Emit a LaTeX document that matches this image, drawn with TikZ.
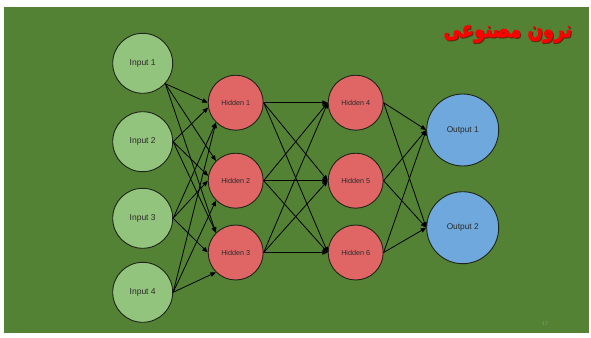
\documentclass[tikz,border=0pt]{standalone}
\usepackage{fontspec}
\setmainfont{Liberation Sans}
\newfontfamily\arabicfont[Script=Arabic,FakeBold=2.5]{DejaVu Sans}
\TeXXeTstate=1
\usetikzlibrary{arrows.meta}

\definecolor{slidegreen}{HTML}{548235}
\definecolor{inputfill}{HTML}{93C47D}
\definecolor{hiddenfill}{HTML}{E06666}
\definecolor{outputfill}{HTML}{6FA8DC}
\definecolor{rimcol}{HTML}{1E2418}
\definecolor{labelcol}{HTML}{2A2A2A}
\definecolor{titleshadow}{HTML}{5A2A10}
\definecolor{pagenum}{HTML}{8C9C80}

\begin{document}
\begin{tikzpicture}[x=1pt,y=-1pt,
  neuron/.style={circle,draw=rimcol,line width=0.9pt,inner sep=0pt,text=labelcol},
  innode/.style={neuron,fill=inputfill,minimum size=60pt,font=\fontsize{8.5}{10}\selectfont},
  hidnode/.style={neuron,fill=hiddenfill,minimum size=55pt,font=\fontsize{7.2}{9}\selectfont},
  outnode/.style={neuron,fill=outputfill,minimum size=72pt,font=\fontsize{8.3}{10}\selectfont},
  link/.style={draw=black,line width=0.8pt,-{Triangle[length=5.5pt,width=4.5pt]}},
  titletext/.style={anchor=east,xscale=0.78,transform shape,inner sep=0pt,font=\arabicfont\bfseries\fontsize{23}{26}\selectfont}
]
% page and slide background
\fill[white] (0,0) rectangle (591,337);
\fill[slidegreen] (4,7) rectangle (589,333);

% input layer
\node[innode] (i1) at (142.7,63.3)  {Input 1};
\node[innode] (i2) at (142.7,141.7) {Input 2};
\node[innode] (i3) at (142.7,218.3) {Input 3};
\node[innode] (i4) at (142.7,292.3) {Input 4};

% first hidden layer
\node[hidnode] (h1) at (235.7,102.7) {Hidden 1};
\node[hidnode] (h2) at (235.7,180.7) {Hidden 2};
\node[hidnode] (h3) at (235.7,252.5) {Hidden 3};

% second hidden layer
\node[hidnode] (h4) at (355.7,102.7) {Hidden 4};
\node[hidnode] (h5) at (355.7,180.7) {Hidden 5};
\node[hidnode] (h6) at (355.7,252.5) {Hidden 6};

% output layer
\node[outnode] (o1) at (462.7,130) {Output 1};
\node[outnode] (o2) at (462.7,227.7) {Output 2};

% input -> first hidden layer
\draw[link] (i1.-42) -- (h1.west);
\draw[link] (i1.-42) -- (h2.135);
\draw[link] (i1.-42) -- (h3.135);
\draw[link] (i2.east) -- (h1.190);
\draw[link] (i2.east) -- (h2.170);
\draw[link] (i2.east) -- (h3.135);
\draw[link] (i3.east) -- (h1.225);
\draw[link] (i3.east) -- (h2.west);
\draw[link] (i3.east) -- (h3.west);
\draw[link] (i4.east) -- (h1.225);
\draw[link] (i4.east) -- (h2.225);
\draw[link] (i4.east) -- (h3.225);

% first hidden -> second hidden layer
\foreach \s in {h1,h2,h3}
  \foreach \t in {h4,h5,h6}
    \draw[link] (\s.east) -- (\t.west);

% second hidden -> output layer
\foreach \s in {h4,h5,h6}
  \foreach \t in {o1,o2}
    \draw[link] (\s.east) -- (\t.west);

% title with shadow
\node[titletext,text=titleshadow] (titleshade) at (573,35) {\beginR نرون مصنوعی\endR};
\node[titletext,text=red] (title) at (572,34) {\beginR نرون مصنوعی\endR};

% slide number
\node[text=pagenum,font=\fontsize{5}{6}\selectfont] (pageno) at (545,324) {17};
\end{tikzpicture}
\end{document}
